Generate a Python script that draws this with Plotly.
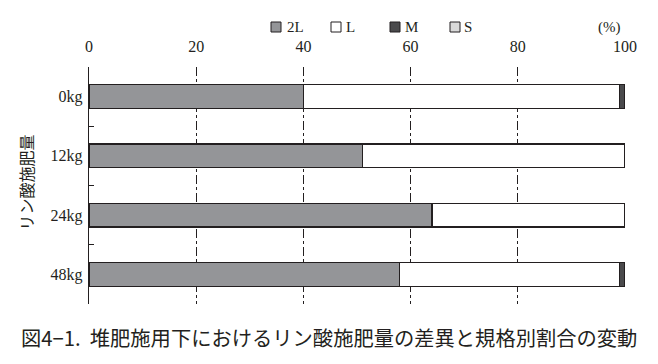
import plotly.graph_objects as go

categories = ["0kg", "12kg", "24kg", "48kg"]
series_names = ["2L", "L", "M", "S"]
v_2L = [40, 51, 64, 58]
v_L = [59, 49, 36, 41]
v_M = [1, 0, 0, 1]
v_S = [0, 0, 0, 0]
x_ticks = [0, 20, 40, 60, 80, 100]

colors = ["#949598", "#ffffff", "#4a4a4c", "#d9d9d9"]
values = [v_2L, v_L, v_M, v_S]

W, H = 658, 364
ML, MR, MT, MB = 89, 33, 67, 60
PW, PH = W - ML - MR, H - MT - MB


def px(x):
    return (x - ML) / PW


def py(y):
    return (H - MB - y) / PH


fig = go.Figure()
for name, vals, col in zip(series_names, values, colors):
    fig.add_trace(go.Bar(
        y=categories, x=vals, name=name, orientation="h",
        marker=dict(color=col, line=dict(color="#231f20", width=1.2)),
        width=0.40, showlegend=False, hoverinfo="skip",
    ))

serif = "Liberation Serif, DejaVu Serif, serif"
ink = "#231f20"

# manual legend (swatch + label) at the top
legend_pos = [(271, 285), (331, 344), (390, 403), (450, 462)]
shapes = []
annotations = []
for (sx, tx), name, col in zip(legend_pos, series_names, colors):
    shapes.append(dict(type="rect", xref="paper", yref="paper",
                       x0=px(sx), x1=px(sx + 10), y0=py(32), y1=py(22),
                       fillcolor=col, line=dict(color=ink, width=1)))
    annotations.append(dict(text=name, xref="paper", yref="paper", x=px(tx), y=py(27),
                            xanchor="left", yanchor="middle", showarrow=False,
                            font=dict(family=serif, size=15, color=ink)))

annotations += [
    dict(text="(%)", xref="paper", yref="paper", x=px(623), y=py(27), xanchor="right",
         yanchor="middle", showarrow=False,
         font=dict(family=serif, size=15, color=ink)),
    dict(text="リン酸施肥量", xref="paper", yref="paper", x=px(25.5), y=py(183),
         xanchor="center", yanchor="middle", textangle=-90, showarrow=False,
         font=dict(family="Noto Sans CJK JP", size=16, color=ink)),
    dict(text="図4−1.  堆肥施用下におけるリン酸施肥量の差異と規格別割合の変動",
         xref="paper", yref="paper", x=px(19), y=py(336.5), xanchor="left",
         yanchor="middle", showarrow=False,
         font=dict(family="Noto Sans CJK JP", size=20.3, color=ink)),
]

fig.update_layout(
    barmode="stack",
    width=W, height=H,
    margin=dict(l=ML, r=MR, t=MT, b=MB, autoexpand=False),
    paper_bgcolor="white", plot_bgcolor="white",
    showlegend=False,
    hovermode=False,
    xaxis=dict(range=[0, 100], side="top", tickvals=x_ticks, automargin=False,
               showgrid=True, gridcolor=ink, gridwidth=1, griddash="dashdot",
               zeroline=False, showline=False, ticks="", ticklabelstandoff=11,
               tickfont=dict(family=serif, size=16, color=ink)),
    yaxis=dict(categoryorder="array", categoryarray=categories, autorange="reversed",
               automargin=False,
               showline=True, linecolor=ink, linewidth=1.2,
               ticks="inside", tickson="boundaries", ticklen=5, tickcolor=ink,
               ticklabelstandoff=2,
               showgrid=False, zeroline=False,
               tickfont=dict(family=serif, size=16, color=ink)),
    shapes=shapes,
    annotations=annotations,
)

fig.write_html("out.html", config={"displayModeBar": False, "staticPlot": True},
               post_script="document.body.style.margin='0';")
